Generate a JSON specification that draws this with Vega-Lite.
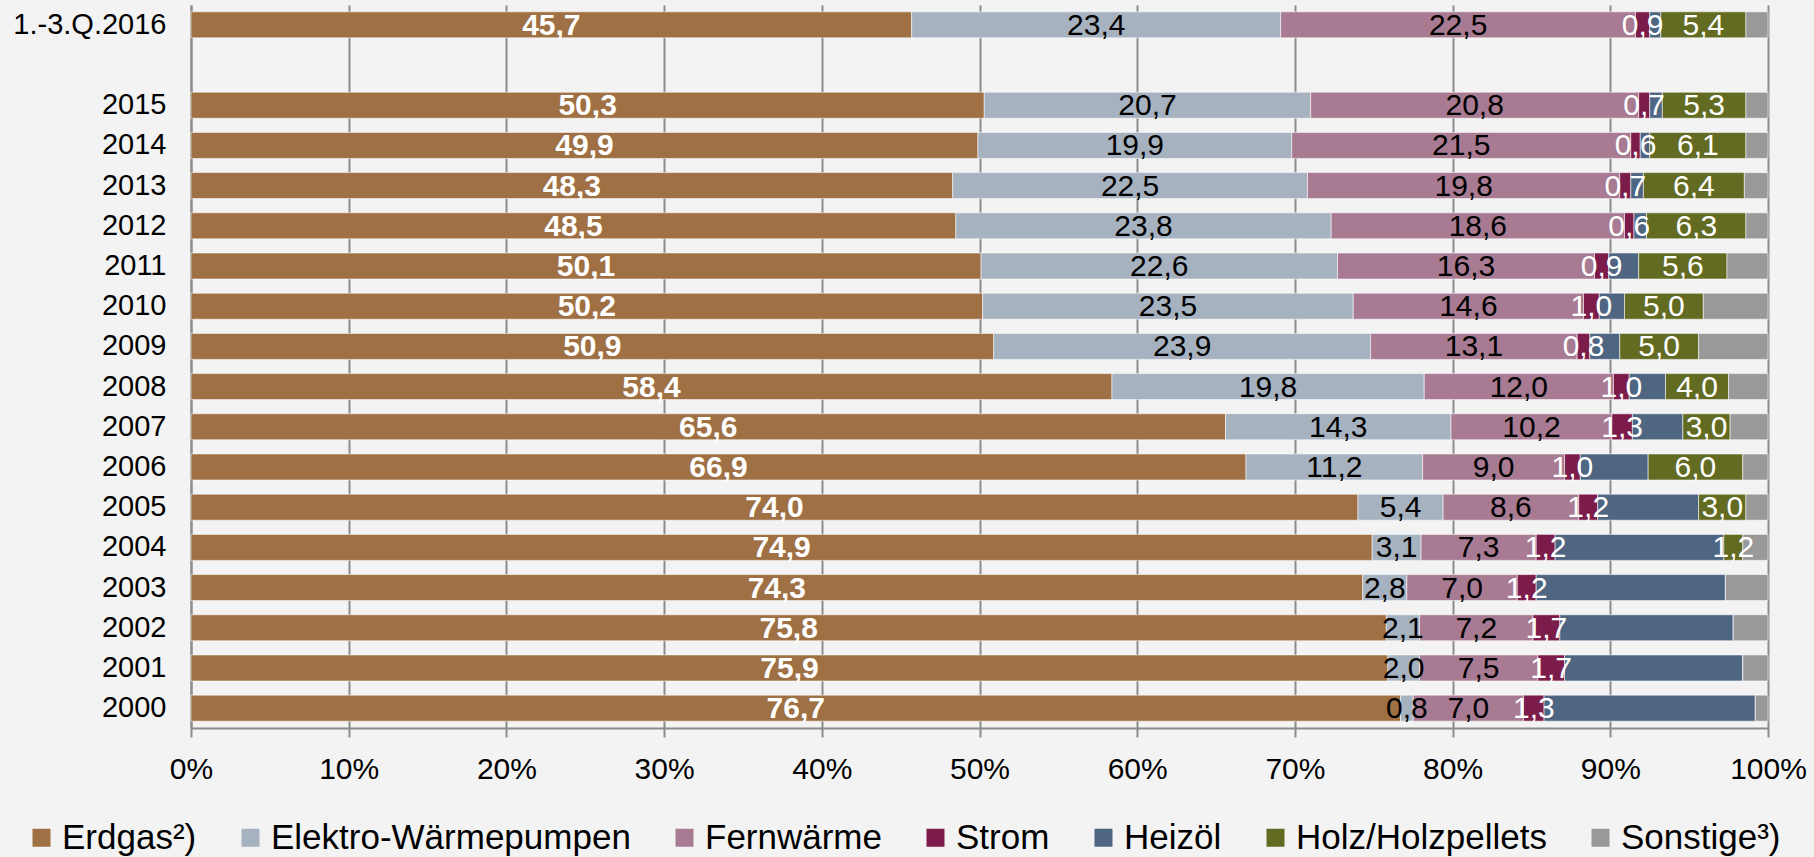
{
  "$schema": "https://vega.github.io/schema/vega-lite/v6.json",
  "autosize": "none",
  "width": 1577,
  "height": 723,
  "padding": {"left": 191, "top": 5, "right": 46, "bottom": 129},
  "background": "#f3f3f3",
  "config": {
    "view": {"stroke": null},
    "font": "Liberation Sans",
    "locale": {"number": {"decimal": ",", "thousands": ".", "grouping": [3], "currency": ["", " €"]}}
  },
  "data": {"values": [
    {"period": "1.-3.Q.2016", "source": "Erdgas²)", "value": 45.7},
    {"period": "1.-3.Q.2016", "source": "Elektro-Wärmepumpen", "value": 23.4},
    {"period": "1.-3.Q.2016", "source": "Fernwärme", "value": 22.5},
    {"period": "1.-3.Q.2016", "source": "Strom", "value": 0.9},
    {"period": "1.-3.Q.2016", "source": "Heizöl", "value": 0.7},
    {"period": "1.-3.Q.2016", "source": "Holz/Holzpellets", "value": 5.4},
    {"period": "1.-3.Q.2016", "source": "Sonstige³)", "value": 1.4},
    {"period": "2015", "source": "Erdgas²)", "value": 50.3},
    {"period": "2015", "source": "Elektro-Wärmepumpen", "value": 20.7},
    {"period": "2015", "source": "Fernwärme", "value": 20.8},
    {"period": "2015", "source": "Strom", "value": 0.7},
    {"period": "2015", "source": "Heizöl", "value": 0.8},
    {"period": "2015", "source": "Holz/Holzpellets", "value": 5.3},
    {"period": "2015", "source": "Sonstige³)", "value": 1.4},
    {"period": "2014", "source": "Erdgas²)", "value": 49.9},
    {"period": "2014", "source": "Elektro-Wärmepumpen", "value": 19.9},
    {"period": "2014", "source": "Fernwärme", "value": 21.5},
    {"period": "2014", "source": "Strom", "value": 0.6},
    {"period": "2014", "source": "Heizöl", "value": 0.6},
    {"period": "2014", "source": "Holz/Holzpellets", "value": 6.1},
    {"period": "2014", "source": "Sonstige³)", "value": 1.4},
    {"period": "2013", "source": "Erdgas²)", "value": 48.3},
    {"period": "2013", "source": "Elektro-Wärmepumpen", "value": 22.5},
    {"period": "2013", "source": "Fernwärme", "value": 19.8},
    {"period": "2013", "source": "Strom", "value": 0.7},
    {"period": "2013", "source": "Heizöl", "value": 0.8},
    {"period": "2013", "source": "Holz/Holzpellets", "value": 6.4},
    {"period": "2013", "source": "Sonstige³)", "value": 1.5},
    {"period": "2012", "source": "Erdgas²)", "value": 48.5},
    {"period": "2012", "source": "Elektro-Wärmepumpen", "value": 23.8},
    {"period": "2012", "source": "Fernwärme", "value": 18.6},
    {"period": "2012", "source": "Strom", "value": 0.6},
    {"period": "2012", "source": "Heizöl", "value": 0.8},
    {"period": "2012", "source": "Holz/Holzpellets", "value": 6.3},
    {"period": "2012", "source": "Sonstige³)", "value": 1.4},
    {"period": "2011", "source": "Erdgas²)", "value": 50.1},
    {"period": "2011", "source": "Elektro-Wärmepumpen", "value": 22.6},
    {"period": "2011", "source": "Fernwärme", "value": 16.3},
    {"period": "2011", "source": "Strom", "value": 0.9},
    {"period": "2011", "source": "Heizöl", "value": 1.9},
    {"period": "2011", "source": "Holz/Holzpellets", "value": 5.6},
    {"period": "2011", "source": "Sonstige³)", "value": 2.6},
    {"period": "2010", "source": "Erdgas²)", "value": 50.2},
    {"period": "2010", "source": "Elektro-Wärmepumpen", "value": 23.5},
    {"period": "2010", "source": "Fernwärme", "value": 14.6},
    {"period": "2010", "source": "Strom", "value": 1.0},
    {"period": "2010", "source": "Heizöl", "value": 1.6},
    {"period": "2010", "source": "Holz/Holzpellets", "value": 5.0},
    {"period": "2010", "source": "Sonstige³)", "value": 4.1},
    {"period": "2009", "source": "Erdgas²)", "value": 50.9},
    {"period": "2009", "source": "Elektro-Wärmepumpen", "value": 23.9},
    {"period": "2009", "source": "Fernwärme", "value": 13.1},
    {"period": "2009", "source": "Strom", "value": 0.8},
    {"period": "2009", "source": "Heizöl", "value": 1.9},
    {"period": "2009", "source": "Holz/Holzpellets", "value": 5.0},
    {"period": "2009", "source": "Sonstige³)", "value": 4.4},
    {"period": "2008", "source": "Erdgas²)", "value": 58.4},
    {"period": "2008", "source": "Elektro-Wärmepumpen", "value": 19.8},
    {"period": "2008", "source": "Fernwärme", "value": 12.0},
    {"period": "2008", "source": "Strom", "value": 1.0},
    {"period": "2008", "source": "Heizöl", "value": 2.3},
    {"period": "2008", "source": "Holz/Holzpellets", "value": 4.0},
    {"period": "2008", "source": "Sonstige³)", "value": 2.5},
    {"period": "2007", "source": "Erdgas²)", "value": 65.6},
    {"period": "2007", "source": "Elektro-Wärmepumpen", "value": 14.3},
    {"period": "2007", "source": "Fernwärme", "value": 10.2},
    {"period": "2007", "source": "Strom", "value": 1.3},
    {"period": "2007", "source": "Heizöl", "value": 3.2},
    {"period": "2007", "source": "Holz/Holzpellets", "value": 3.0},
    {"period": "2007", "source": "Sonstige³)", "value": 2.4},
    {"period": "2006", "source": "Erdgas²)", "value": 66.9},
    {"period": "2006", "source": "Elektro-Wärmepumpen", "value": 11.2},
    {"period": "2006", "source": "Fernwärme", "value": 9.0},
    {"period": "2006", "source": "Strom", "value": 1.0},
    {"period": "2006", "source": "Heizöl", "value": 4.3},
    {"period": "2006", "source": "Holz/Holzpellets", "value": 6.0},
    {"period": "2006", "source": "Sonstige³)", "value": 1.6},
    {"period": "2005", "source": "Erdgas²)", "value": 74.0},
    {"period": "2005", "source": "Elektro-Wärmepumpen", "value": 5.4},
    {"period": "2005", "source": "Fernwärme", "value": 8.6},
    {"period": "2005", "source": "Strom", "value": 1.2},
    {"period": "2005", "source": "Heizöl", "value": 6.4},
    {"period": "2005", "source": "Holz/Holzpellets", "value": 3.0},
    {"period": "2005", "source": "Sonstige³)", "value": 1.4},
    {"period": "2004", "source": "Erdgas²)", "value": 74.9},
    {"period": "2004", "source": "Elektro-Wärmepumpen", "value": 3.1},
    {"period": "2004", "source": "Fernwärme", "value": 7.3},
    {"period": "2004", "source": "Strom", "value": 1.2},
    {"period": "2004", "source": "Heizöl", "value": 10.7},
    {"period": "2004", "source": "Holz/Holzpellets", "value": 1.2},
    {"period": "2004", "source": "Sonstige³)", "value": 1.6},
    {"period": "2003", "source": "Erdgas²)", "value": 74.3},
    {"period": "2003", "source": "Elektro-Wärmepumpen", "value": 2.8},
    {"period": "2003", "source": "Fernwärme", "value": 7.0},
    {"period": "2003", "source": "Strom", "value": 1.2},
    {"period": "2003", "source": "Heizöl", "value": 12.0},
    {"period": "2003", "source": "Holz/Holzpellets", "value": 0},
    {"period": "2003", "source": "Sonstige³)", "value": 2.7},
    {"period": "2002", "source": "Erdgas²)", "value": 75.8},
    {"period": "2002", "source": "Elektro-Wärmepumpen", "value": 2.1},
    {"period": "2002", "source": "Fernwärme", "value": 7.2},
    {"period": "2002", "source": "Strom", "value": 1.7},
    {"period": "2002", "source": "Heizöl", "value": 11.0},
    {"period": "2002", "source": "Holz/Holzpellets", "value": 0},
    {"period": "2002", "source": "Sonstige³)", "value": 2.2},
    {"period": "2001", "source": "Erdgas²)", "value": 75.9},
    {"period": "2001", "source": "Elektro-Wärmepumpen", "value": 2.0},
    {"period": "2001", "source": "Fernwärme", "value": 7.5},
    {"period": "2001", "source": "Strom", "value": 1.7},
    {"period": "2001", "source": "Heizöl", "value": 11.3},
    {"period": "2001", "source": "Holz/Holzpellets", "value": 0},
    {"period": "2001", "source": "Sonstige³)", "value": 1.6},
    {"period": "2000", "source": "Erdgas²)", "value": 76.7},
    {"period": "2000", "source": "Elektro-Wärmepumpen", "value": 0.8},
    {"period": "2000", "source": "Fernwärme", "value": 7.0},
    {"period": "2000", "source": "Strom", "value": 1.3},
    {"period": "2000", "source": "Heizöl", "value": 13.4},
    {"period": "2000", "source": "Holz/Holzpellets", "value": 0},
    {"period": "2000", "source": "Sonstige³)", "value": 0.8}
  ]},
  "transform": [
    {"calculate": "indexof(['Erdgas²)','Elektro-Wärmepumpen','Fernwärme','Strom','Heizöl','Holz/Holzpellets','Sonstige³)'], datum.source)", "as": "k"},
    {"stack": "value", "groupby": ["period"], "sort": [{"field": "k", "order": "ascending"}], "as": ["v0", "v1"]},
    {"calculate": "(datum.v0 + datum.v1) / 2", "as": "mid"}
  ],
  "encoding": {
    "y": {
      "field": "period", "type": "nominal",
      "scale": {"domain": ["1.-3.Q.2016", " ", "2015", "2014", "2013", "2012", "2011", "2010", "2009", "2008", "2007", "2006", "2005", "2004", "2003", "2002", "2001", "2000"], "paddingInner": 0.353, "paddingOuter": 0.17},
      "axis": {"title": null, "ticks": false, "domain": true, "domainColor": "#8c8c8c", "domainWidth": 2, "labelFontSize": 29, "labelColor": "#000000", "labelPadding": 25, "grid": false}
    }
  },
  "layer": [
    {
      "mark": {"type": "bar", "stroke": "#ffffff", "strokeWidth": 1, "strokeOpacity": 0.55},
      "encoding": {
        "x": {"field": "v0", "type": "quantitative",
          "scale": {"domain": [0, 100], "nice": false},
          "axis": {"title": null, "values": [0, 10, 20, 30, 40, 50, 60, 70, 80, 90, 100], "labelExpr": "datum.value + '%'", "grid": true, "gridColor": "#8c8c8c", "gridWidth": 2, "tickColor": "#8c8c8c", "tickWidth": 2, "tickSize": 9, "domainColor": "#8c8c8c", "domainWidth": 2, "labelFontSize": 30, "labelColor": "#000000", "labelPadding": 17, "labelFlush": false}},
        "x2": {"field": "v1"},
        "color": {
          "field": "source", "type": "nominal",
          "scale": {
            "domain": ["Erdgas²)", "Elektro-Wärmepumpen", "Fernwärme", "Strom", "Heizöl", "Holz/Holzpellets", "Sonstige³)"],
            "range": ["#9e7043", "#a6b2bf", "#a87b92", "#7c1c4a", "#4f6683", "#626b21", "#999999"]
          },
          "legend": {
            "title": null, "orient": "none", "direction": "horizontal", "legendX": -167, "legendY": 815,
            "symbolType": "square", "symbolSize": 324, "symbolStrokeWidth": 0,
            "labelFontSize": 35, "labelColor": "#000000", "labelOffset": 3, "columnPadding": 36, "labelLimit": 600
          }
        }
      }
    },
    {
      "transform": [{"filter": "datum.source === 'Erdgas²)'"}],
      "mark": {"type": "text", "color": "#ffffff", "fontSize": 30, "fontWeight": "bold", "baseline": "middle", "dy": 1},
      "encoding": {
        "x": {"field": "mid", "type": "quantitative"},
        "text": {"field": "value", "type": "quantitative", "format": ".1f"}
      }
    },
    {
      "transform": [{"filter": "(datum.source === 'Strom' || datum.source === 'Holz/Holzpellets') && datum.value > 0"}],
      "mark": {"type": "text", "color": "#ffffff", "fontSize": 30, "baseline": "middle", "dy": 1},
      "encoding": {
        "x": {"field": "mid", "type": "quantitative"},
        "text": {"field": "value", "type": "quantitative", "format": ".1f"}
      }
    },
    {
      "transform": [{"filter": "datum.source === 'Elektro-Wärmepumpen' || datum.source === 'Fernwärme'"}],
      "mark": {"type": "text", "color": "#000000", "fontSize": 30, "baseline": "middle", "dy": 1},
      "encoding": {
        "x": {"field": "mid", "type": "quantitative"},
        "text": {"field": "value", "type": "quantitative", "format": ".1f"}
      }
    }
  ]
}
